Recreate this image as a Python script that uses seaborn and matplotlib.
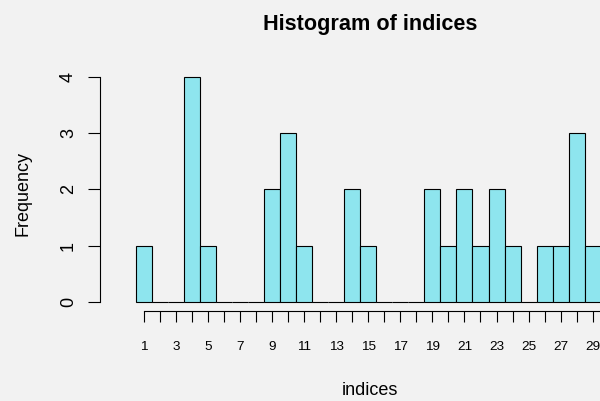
import numpy as np
import matplotlib
matplotlib.use("Agg")
import matplotlib.pyplot as plt
import seaborn as sns

# observed index values (one entry per occurrence)
indices = [1,
           4, 4, 4, 4,
           5,
           9, 9,
           10, 10, 10,
           11,
           14, 14,
           15,
           19, 19,
           20,
           21, 21,
           22,
           23, 23,
           24,
           26,
           27,
           28, 28, 28,
           29]

x_ticks = list(range(1, 31))
x_tick_labels = [str(v) if v % 2 == 1 else "" for v in x_ticks]
y_ticks = [0, 1, 2, 3, 4]
y_tick_labels = ["0", "1", "2", "3", "4"]

title = "Histogram of indices"
x_label = "indices"
y_label = "Frequency"

BG = "#F2F2F2"
FILL = "#8EE5EE"

sns.set_theme(style="ticks")
plt.rcParams["font.family"] = ["Liberation Sans", "DejaVu Sans"]
plt.rcParams["axes.edgecolor"] = "black"
plt.rcParams["xtick.color"] = "black"
plt.rcParams["ytick.color"] = "black"
plt.rcParams["text.color"] = "black"
plt.rcParams["axes.labelcolor"] = "black"

fig, ax = plt.subplots(figsize=(6, 4.01), dpi=100)
fig.patch.set_facecolor(BG)
ax.set_facecolor(BG)
ax.set_position([100 / 600, (401 - 311) / 401, 540.7 / 600, 243.3 / 401])

sns.histplot(x=indices, discrete=True, stat="count", ax=ax,
             color=FILL, alpha=1, edgecolor="black", linewidth=0.8)

ax.set_xlim(-1.75, 32.0)
ax.set_ylim(-0.16, 4.16)

for side in ("top", "right"):
    ax.spines[side].set_visible(False)
ax.spines["left"].set_bounds(0, 4)
ax.spines["bottom"].set_bounds(1, 30)
ax.spines["left"].set_linewidth(0.8)
ax.spines["bottom"].set_linewidth(0.8)

ax.set_xticks(x_ticks)
ax.set_xticklabels(x_tick_labels)
ax.set_yticks(y_ticks)
ax.set_yticklabels(y_tick_labels, rotation=90, va="center")

ax.tick_params(axis="x", direction="out", length=7.9, width=0.8,
               labelsize=9.7, pad=14)
ax.tick_params(axis="y", direction="out", length=8.6, width=0.8,
               labelsize=13, pad=8)

ax.set_xlabel(x_label, fontsize=13)
ax.xaxis.set_label_coords(0.5, -0.292)
ax.set_ylabel(y_label, fontsize=13)
ax.yaxis.set_label_coords(-0.126, 0.481)

ax.set_title(title, fontsize=15.6, fontweight="bold", y=1.156, pad=0)
ax.grid(False)

fig.savefig("out.png", dpi=100, facecolor=BG)
